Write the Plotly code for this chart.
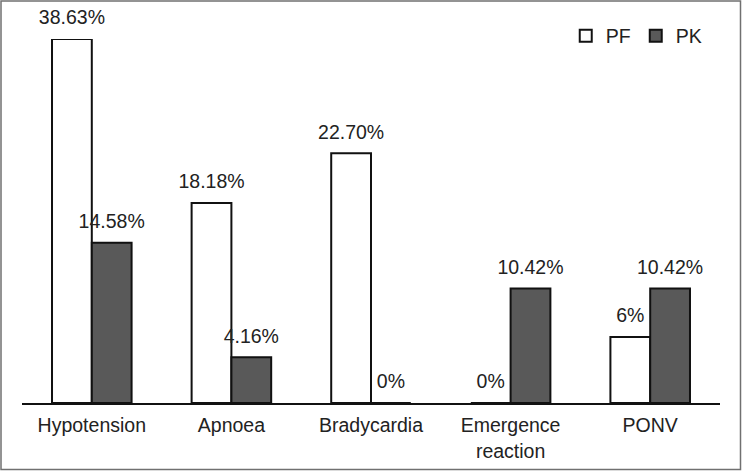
import plotly.graph_objects as go

categories = ["Hypotension", "Apnoea", "Bradycardia", "Emergence<br>reaction", "PONV"]
pf_values = [38.63, 18.18, 22.70, 0, 6]
pk_values = [14.58, 4.16, 0, 10.42, 10.42]
pf_labels = ["38.63%", "18.18%", "22.70%", "0%", "6%"]
pk_labels = ["14.58%", "4.16%", "0%", "10.42%", "10.42%"]

W, H = 742, 471
ML, MR, MT, MB = 22, 22, 39, 68
# the original chart truncates the tallest bar at the top of the plot area
YMAX = 33.1
FONT = dict(family="Liberation Sans, Arial, sans-serif", size=19.5, color="#222222")

pf_shown = [min(v, YMAX) for v in pf_values]
pk_shown = [min(v, YMAX) for v in pk_values]

fig = go.Figure()
fig.add_trace(go.Bar(name="PF", x=categories, y=pf_shown, offsetgroup="PF",
                     marker=dict(color="white", line=dict(color="#111111", width=2)),
                     cliponaxis=False))
fig.add_trace(go.Bar(name="PK", x=categories, y=pk_shown, offsetgroup="PK",
                     marker=dict(color="#595959", line=dict(color="#111111", width=2)),
                     cliponaxis=False))
for shown, labels, grp in [(pf_shown, pf_labels, "PF"), (pk_shown, pk_labels, "PK")]:
    fig.add_trace(go.Scatter(x=categories, y=shown, offsetgroup=grp,
                             mode="markers+text", text=labels, textposition="top center",
                             marker=dict(size=14, opacity=0),
                             textfont=FONT, showlegend=False, cliponaxis=False,
                             hoverinfo="skip"))

pw, ph = W - ML - MR, H - MT - MB
fig.add_shape(type="rect", xref="paper", yref="paper",
              x0=(1 - ML) / pw, x1=(W - 1.5 - ML) / pw,
              y0=(H - MB - (H - 1.5)) / ph, y1=(H - MB - 1) / ph,
              line=dict(color="#707070", width=1.5), fillcolor="rgba(0,0,0,0)", layer="below")

fig.update_layout(
    width=W, height=H,
    margin=dict(l=ML, r=MR, t=MT, b=MB, pad=0, autoexpand=False),
    paper_bgcolor="white", plot_bgcolor="white",
    barmode="group", bargap=0.43, bargroupgap=0,
    scattermode="group", scattergap=0.43,
    font=FONT,
    showlegend=True,
    legend=dict(orientation="h", x=0.779, y=1.008, xanchor="left", yanchor="middle",
                font=dict(size=19.5, color="#222222"), bgcolor="rgba(0,0,0,0)",
                itemwidth=30, traceorder="normal"),
    xaxis=dict(showline=True, linecolor="#111111", linewidth=2, ticks="",
               showgrid=False, zeroline=False, tickfont=FONT, ticklabelstandoff=4,
               automargin=False),
    yaxis=dict(range=[0, YMAX], visible=False, showgrid=False, zeroline=False,
               automargin=False),
)

fig.write_html("out.html", config={"displayModeBar": False},
               post_script="document.body.style.margin='0';document.body.style.overflow='hidden';")
